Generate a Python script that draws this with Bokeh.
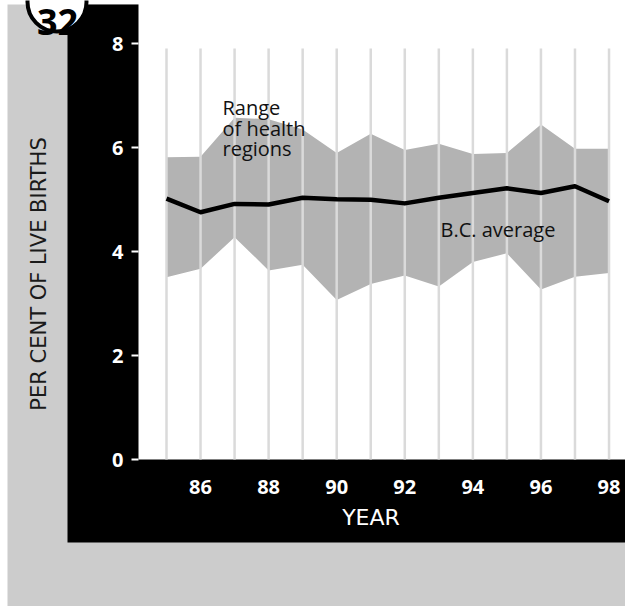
from bokeh.plotting import figure
from bokeh.models import Range1d, FixedTicker, BoxAnnotation, Label
from bokeh.core.properties import value
from bokeh.embed import file_html
from bokeh.resources import INLINE

# ---- data ----
years = [85, 86, 87, 88, 89, 90, 91, 92, 93, 94, 95, 96, 97, 98]
bc_average = [5.02, 4.76, 4.92, 4.91, 5.04, 5.01, 5.00, 4.93, 5.04, 5.13, 5.22, 5.13, 5.26, 4.97]
region_max = [5.82, 5.83, 6.58, 6.55, 6.35, 5.90, 6.27, 5.96, 6.08, 5.88, 5.90, 6.45, 5.98, 5.98]
region_min = [3.51, 3.67, 4.28, 3.64, 3.75, 3.07, 3.38, 3.54, 3.33, 3.80, 3.97, 3.27, 3.52, 3.59]
x_ticks = [86, 88, 90, 92, 94, 96, 98]
y_ticks = [0, 2, 4, 6, 8]
range_label_lines = ["Range", "of health", "regions"]
avg_label = "B.C. average"
badge_text = "32"
x_title = "YEAR"
y_title = "PER CENT OF LIVE BIRTHS"

# ---- layout (page pixels) ----
W, H = 625, 606
FL, FB = 138, 459           # plot-area left edge, bottom edge (px)
XS, YS = 34.04, 51.95       # px per year, px per percent


def xd(px):
    return 85 + (px - 166) / XS


def yd(py):
    return (FB - py) / YS


FONT = "Open Sans"
TFONT = "DejaVu Sans"

p = figure(width=W, height=H, output_backend="svg", toolbar_location=None,
           x_range=Range1d(xd(0), xd(W)), y_range=Range1d(yd(H), yd(0)),
           min_border=0, min_border_left=0, min_border_right=0,
           min_border_top=0, min_border_bottom=0,
           border_fill_color="white", background_fill_color="white",
           outline_line_color=None)
p.grid.visible = False

# decorative panels
for l, r, t, b, c in [
    (7, 700, 4, 700, "#cccccc"),
    (67, 700, 4, 542, "black"),
    (FL, 700, -20, FB, "white"),
]:
    p.add_layout(BoxAnnotation(left=xd(l), right=xd(r), top=yd(t), bottom=yd(b),
                               fill_color=c, fill_alpha=1, line_color=None,
                               level="underlay"))

# range band
p.varea(x=years, y1=region_min, y2=region_max, fill_color="#b3b3b3")
# vertical year lines
p.segment(x0=years, y0=[0] * len(years), x1=years, y1=[7.91] * len(years),
          line_color="#dadada", line_width=2.5)
# B.C. average
p.line(x=years, y=bc_average, line_color="black", line_width=4.5, line_join="round")

# labels
p.text(x=[xd(222)] * 3, y=[yd(107), yd(127.5), yd(148)], text=range_label_lines,
       text_font=value(FONT), text_font_size="20px", text_color="#111111",
       text_baseline="alphabetic", text_align="left")
p.text(x=[xd(440)], y=[yd(229)], text=[avg_label],
       text_font=value(FONT), text_font_size="20px", text_color="#111111",
       text_baseline="alphabetic", text_align="left")

# axes (pinned to the plot-area edges)
ya = p.yaxis[0]
ya.fixed_location = xd(FL)
ya.bounds = (2 * yd(273.5) - 8, 8)
ya.ticker = FixedTicker(ticks=y_ticks)
ya.axis_line_color = None
ya.major_tick_line_color = "white"
ya.major_tick_line_width = 2
ya.major_tick_out = 7
ya.major_tick_in = 0
ya.minor_tick_line_color = None
ya.major_label_standoff = 8
ya.major_label_text_color = "white"
ya.major_label_text_font = FONT
ya.major_label_text_font_style = "bold"
ya.major_label_text_font_size = "20px"
ya.axis_label = y_title
ya.axis_label_text_font = TFONT
ya.axis_label_text_font_style = "normal"
ya.axis_label_text_font_size = "21px"
ya.axis_label_text_color = "#1a1a1a"
ya.axis_label_standoff = 58

xa = p.xaxis[0]
xa.fixed_location = 0
xa.bounds = (2 * xd(371) - 98.5, 98.5)
xa.ticker = FixedTicker(ticks=x_ticks)
xa.axis_line_color = None
xa.major_tick_line_color = None
xa.minor_tick_line_color = None
xa.major_label_standoff = 14
xa.major_label_text_color = "white"
xa.major_label_text_font = FONT
xa.major_label_text_font_style = "bold"
xa.major_label_text_font_size = "20px"
xa.axis_label = x_title
xa.axis_label_text_font = TFONT
xa.axis_label_text_font_style = "normal"
xa.axis_label_text_font_size = "22px"
xa.axis_label_text_color = "white"
xa.axis_label_standoff = 8

# badge
p.scatter(x=[xd(56.5)], y=[yd(1.5)], marker="circle", size=59,
          fill_color="white", line_color="black", line_width=4)
p.add_layout(Label(x=xd(57), y=yd(21), text=badge_text, text_align="center",
                   text_baseline="alphabetic", text_font=FONT, text_font_style="bold",
                   text_font_size="36px", text_color="black", level="overlay"))

open("out.html", "w").write(file_html(p, INLINE))
